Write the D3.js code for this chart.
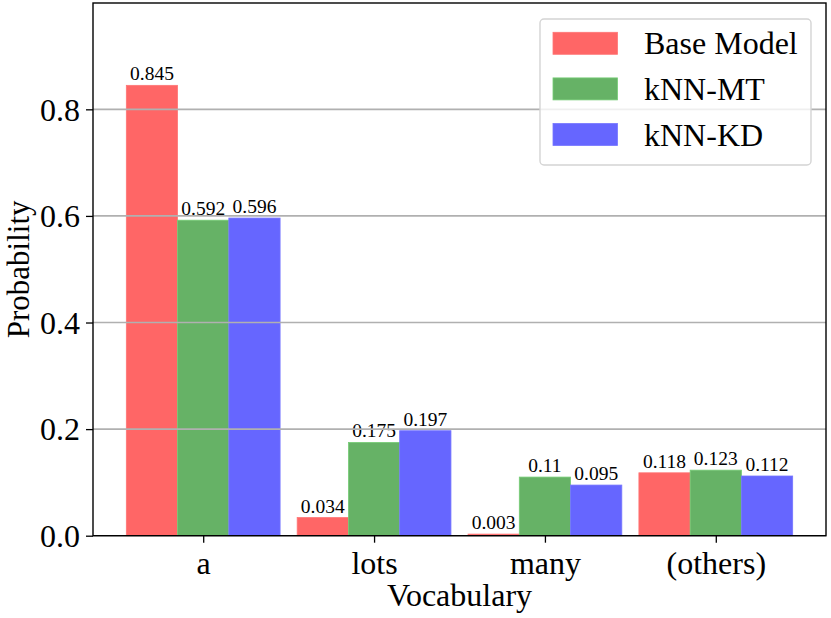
<!DOCTYPE html>
<html><head><meta charset="utf-8">
<script src="https://cdn.jsdelivr.net/npm/d3@7"></script>
<style>body{margin:0;background:#fff}svg{display:block}text{font-family:"Liberation Serif","Times New Roman",serif;fill:#000}</style>
</head><body><svg id="c" width="831" height="618"></svg>
<script>
const categories = ["a", "lots", "many", "(others)"];
const seriesNames = ["Base Model", "kNN-MT", "kNN-KD"];
const baseModel = [0.845, 0.034, 0.003, 0.118];
const knnMT = [0.592, 0.175, 0.11, 0.123];
const knnKD = [0.596, 0.197, 0.095, 0.112];
const seriesColors = ["#ff6666", "#66b266", "#6666ff"];
const yTicks = [0.0, 0.2, 0.4, 0.6, 0.8];
const labelText = [["0.845","0.034","0.003","0.118"],["0.592","0.175","0.11","0.123"],["0.596","0.197","0.095","0.112"]];

const series = [baseModel, knnMT, knnKD];
const svg = d3.select("#c");
const L = 93, R = 826, T = 3, B = 535.7;
const x = d3.scaleLinear().domain([-0.645, 3.645]).range([L, R]);
const y = d3.scaleLinear().domain([0, 0.9995]).range([B, T]);
const bw = 0.3;

const g = svg.append("g");
series.forEach((vals, si) => {
  const off = (si - 1) * bw;
  g.selectAll(null).data(vals).enter().append("rect")
    .attr("x", (d, i) => x(i + off - bw / 2))
    .attr("width", x(bw) - x(0))
    .attr("y", d => y(d))
    .attr("height", d => y(0) - y(d))
    .attr("fill", seriesColors[si])
    .attr("stroke", d3.color(seriesColors[si]).brighter(0.4))
    .attr("stroke-width", 0.8);
  g.selectAll(null).data(vals).enter().append("text")
    .attr("x", (d, i) => x(i + off))
    .attr("y", d => y(d) - 5)
    .attr("text-anchor", "middle")
    .attr("font-size", 19.5)
    .text((d, i) => labelText[si][i]);
});

// grid
svg.append("g").selectAll("line").data(yTicks).enter().append("line")
  .attr("x1", L).attr("x2", R).attr("y1", d => y(d)).attr("y2", d => y(d))
  .attr("stroke", "#b0b0b0").attr("stroke-width", 1.6);

// axes
const ya = svg.append("g").attr("transform", `translate(${L},0)`)
  .call(d3.axisLeft(y).tickValues(yTicks).tickFormat(d3.format(".1f")).tickSize(7).tickPadding(6));
const xa = svg.append("g").attr("transform", `translate(0,${B})`)
  .call(d3.axisBottom(x).tickValues(d3.range(categories.length)).tickFormat(i => categories[i]).tickSize(7).tickPadding(6));
[ya, xa].forEach(a => {
  a.select(".domain").remove();
  a.selectAll(".tick line").attr("stroke", "#000").attr("stroke-width", 1.3);
  a.selectAll(".tick text").attr("font-size", 32);
});
xa.selectAll(".tick text").attr("dy", "0.78em");
ya.selectAll(".tick text").attr("dy", "0.34em");

svg.append("rect").attr("x", L).attr("y", T).attr("width", R - L).attr("height", B - T)
  .attr("fill", "none").attr("stroke", "#000").attr("stroke-width", 1.4);

svg.append("text").attr("x", (L + R) / 2).attr("y", 606).attr("text-anchor", "middle")
  .attr("font-size", 32).text("Vocabulary");
svg.append("text").attr("transform", `translate(28.5,${(T + B) / 2}) rotate(-90)`)
  .attr("text-anchor", "middle").attr("font-size", 31).text("Probability");

// legend
const lg = svg.append("g");
lg.append("rect").attr("x", 540).attr("y", 19).attr("width", 271).attr("height", 146)
  .attr("rx", 4).attr("fill", "rgba(255,255,255,0.8)").attr("stroke", "#d4d4d4").attr("stroke-width", 1.4);
seriesNames.forEach((n, i) => {
  const cy = 43.3 + i * 45.6;
  lg.append("rect").attr("x", 553).attr("y", cy - 11).attr("width", 64.5).attr("height", 22)
    .attr("fill", seriesColors[i]).attr("stroke", d3.color(seriesColors[i]).brighter(0.4)).attr("stroke-width", 0.8);
  lg.append("text").attr("x", 644).attr("y", cy + 11).attr("font-size", 32).text(n);
});
</script></body></html>
